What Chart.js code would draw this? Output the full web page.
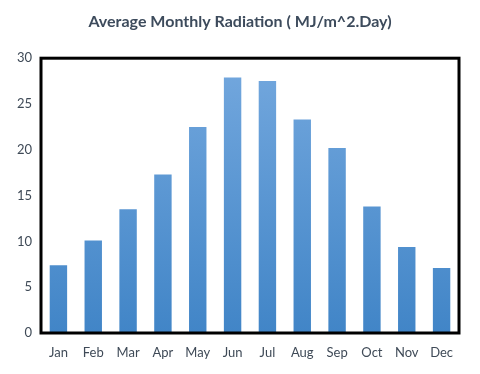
<!DOCTYPE html>
<html><head><meta charset="utf-8">
<script src="https://cdn.jsdelivr.net/npm/chart.js@4/dist/chart.umd.min.js"></script>
<style>html,body{margin:0;padding:0;background:#fff}#wrap{width:480px;height:374px}</style>
</head><body><div id="wrap"><canvas id="c" width="480" height="374"></canvas></div>
<script>
const months = ['Jan','Feb','Mar','Apr','May','Jun','Jul','Aug','Sep','Oct','Nov','Dec'];
const radiation = [7.4, 10.1, 13.5, 17.3, 22.5, 27.9, 27.5, 23.3, 20.2, 13.8, 9.4, 7.1];
const yTicks = [0, 5, 10, 15, 20, 25, 30];
const titleText = 'Average Monthly Radiation ( MJ/m^2.Day)';

const borderPlugin = {
  id: 'frame',
  afterDatasetsDraw(chart) {
    const a = chart.chartArea, ctx = chart.ctx;
    ctx.save();
    ctx.strokeStyle = '#000';
    ctx.lineWidth = 3;
    ctx.strokeRect(a.left, a.top, a.right - a.left, a.bottom - a.top);
    ctx.restore();
  }
};

new Chart(document.getElementById('c'), {
  type: 'bar',
  data: {
    labels: months,
    datasets: [{
      data: radiation,
      backgroundColor(ctx) {
        const a = ctx.chart.chartArea;
        if (!a) return '#5b9bd5';
        const g = ctx.chart.ctx.createLinearGradient(0, a.top, 0, a.bottom);
        g.addColorStop(0, '#74a8de');
        g.addColorStop(1, '#4185c7');
        return g;
      },
      borderWidth: 0,
      barPercentage: 0.5,
      categoryPercentage: 1.0
    }]
  },
  options: {
    responsive: false,
    animation: false,
    layout: { padding: 0 },
    plugins: {
      legend: { display: false },
      tooltip: { enabled: false },
      title: {
        display: true,
        text: titleText,
        color: '#3d4b5c',
        font: { family: 'Lato', size: 16, weight: 'bold' },
        padding: { top: 12, bottom: 27 }
      }
    },
    scales: {
      x: {
        grid: { display: false, drawTicks: false },
        border: { display: false },
        ticks: { color: '#3f4a57', font: { family: 'Lato', size: 13 }, padding: 12 },
        afterFit(s) { s.height = 41; }
      },
      y: {
        min: 0, max: 30,
        afterBuildTicks(s) { s.ticks = yTicks.map(v => ({ value: v })); },
        grid: { display: false, drawTicks: false },
        border: { display: false },
        ticks: { color: '#3f4a57', font: { family: 'Lato', size: 13 }, padding: 9 },
        afterFit(s) { s.width = 41; }
      },
      yRight: {
        position: 'right',
        min: 0, max: 30,
        grid: { display: false, drawTicks: false },
        border: { display: false },
        ticks: { display: false },
        afterFit(s) { s.width = 21; }
      }
    }
  },
  plugins: [borderPlugin]
});
</script></body></html>
